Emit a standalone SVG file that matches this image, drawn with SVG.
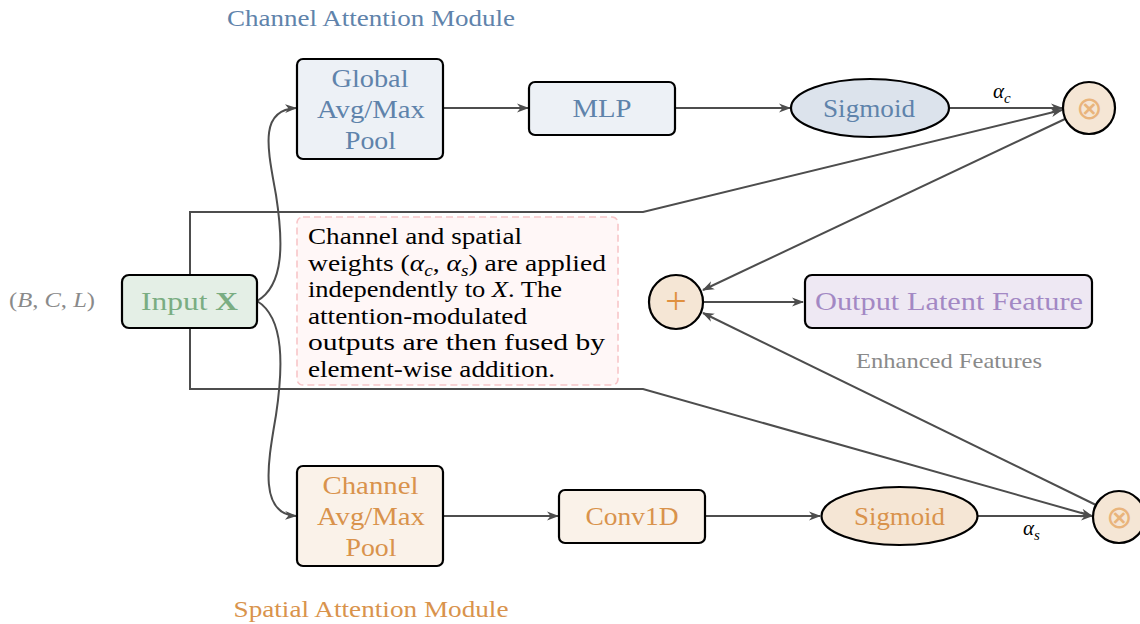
<svg xmlns="http://www.w3.org/2000/svg" width="1140" height="624" viewBox="0 0 1140 624">
<defs>
<marker id="arr" viewBox="0 0 12 10" refX="11" refY="5" markerWidth="12" markerHeight="10" markerUnits="userSpaceOnUse" orient="auto">
<path d="M0,0.5 L12,5 L0,9.5 L3.5,5 Z" fill="#4d4d4d"/>
</marker>
<style>
.t{font-family:"Liberation Serif","Times New Roman",serif}
.box{stroke:#000;stroke-width:2.2}
.conn{fill:none;stroke:#4d4d4d;stroke-width:2;marker-end:url(#arr)}
.blue{fill:#5f83ab}
.orange{fill:#d9934c}
.lbl{font-size:25px;text-anchor:middle}
.note{font-size:23px;fill:#000}
.sym{font-family:"DejaVu Sans",sans-serif;text-anchor:middle;font-weight:200}
</style>
</defs>
<rect width="1140" height="624" fill="#fff"/>

<g id="connectors">
<path class="conn" d="M257,301 C285,285 283,240 276,195 C268,150 258,110 296,108"/>
<path class="conn" d="M257,301 C285,318 283,368 276,415 C268,462 258,514 296,516"/>
<path class="conn" d="M443,108 L528,108"/>
<path class="conn" d="M675,108 L790,108"/>
<path class="conn" d="M949,108 L1062,108"/>
<path class="conn" d="M190,275 L190,212 L643,212 L1062,110"/>
<path class="conn" d="M190,328 L190,389 L643,389 L1092,516"/>
<path class="conn" d="M443,516 L558,516"/>
<path class="conn" d="M705,516 L820,516"/>
<path class="conn" d="M977,516 L1092,516"/>
<path class="conn" d="M1065,119 L703,290"/>
<path class="conn" d="M1096,505 L703,313"/>
<path class="conn" d="M703,302 L803,302"/>
<text class="t" x="993" y="98" font-size="21" font-style="italic">α<tspan font-size="15" dy="5">c</tspan></text>
<text class="t" x="1023" y="535" font-size="21" font-style="italic">α<tspan font-size="15" dy="5">s</tspan></text>
</g>

<g id="title-channel">
<text class="t blue" x="371" y="26" font-size="24" text-anchor="middle" textLength="288" lengthAdjust="spacingAndGlyphs">Channel Attention Module</text>
</g>
<g id="title-spatial">
<text class="t orange" x="371" y="617" font-size="24" text-anchor="middle" textLength="275" lengthAdjust="spacingAndGlyphs">Spatial Attention Module</text>
</g>

<g id="shape-label">
<text class="t" x="52" y="307" font-size="22" fill="#8a8a8a" text-anchor="middle" textLength="86" lengthAdjust="spacingAndGlyphs">(<tspan font-style="italic">B</tspan>, <tspan font-style="italic">C</tspan>, <tspan font-style="italic">L</tspan>)</text>
</g>

<g id="input">
<rect class="box" x="122" y="275" width="135" height="53" rx="7" fill="#e4efe6"/>
<text class="t lbl" x="189.5" y="310" fill="#7aad82" textLength="97" lengthAdjust="spacingAndGlyphs">Input <tspan font-weight="bold">X</tspan></text>
</g>

<g id="global-pool">
<rect class="box" x="297" y="59" width="146" height="100" rx="6" fill="#edf1f6"/>
<text class="t lbl blue" x="370" y="87" textLength="77" lengthAdjust="spacingAndGlyphs">Global</text>
<text class="t lbl blue" x="371" y="118" textLength="108" lengthAdjust="spacingAndGlyphs">Avg/Max</text>
<text class="t lbl blue" x="370.5" y="149" textLength="51" lengthAdjust="spacingAndGlyphs">Pool</text>
</g>

<g id="mlp">
<rect class="box" x="529" y="82" width="146" height="53" rx="6" fill="#edf1f6"/>
<text class="t lbl blue" x="602" y="117" textLength="59" lengthAdjust="spacingAndGlyphs">MLP</text>
</g>

<g id="sigmoid-c">
<ellipse class="box" cx="870" cy="108" rx="79" ry="29" fill="#dce3ec"/>
<text class="t lbl blue" x="869" y="117" textLength="92" lengthAdjust="spacingAndGlyphs">Sigmoid</text>
</g>

<g id="mul-c">
<circle class="box" cx="1089" cy="108" r="26" fill="#f5e6d5"/>
<text class="sym" x="1089" y="119" font-size="32" fill="#e9b47c">⊗</text>
</g>

<g id="note">
<rect x="297" y="217" width="321" height="168" rx="6" fill="#fff7f7" stroke="#f8c6c9" stroke-width="1.6" stroke-dasharray="7,4"/>
<text class="t note" x="308" y="244" textLength="214" lengthAdjust="spacingAndGlyphs">Channel and spatial</text>
<text class="t note" x="308" y="270.5" textLength="298" lengthAdjust="spacingAndGlyphs">weights (<tspan font-style="italic">α</tspan><tspan font-size="16" font-style="italic" dy="5">c</tspan><tspan dy="-5">, </tspan><tspan font-style="italic">α</tspan><tspan font-size="16" font-style="italic" dy="5">s</tspan><tspan dy="-5">) are applied</tspan></text>
<text class="t note" x="308" y="297" textLength="254" lengthAdjust="spacingAndGlyphs">independently to <tspan font-style="italic">X</tspan>. The</text>
<text class="t note" x="308" y="323.5" textLength="219" lengthAdjust="spacingAndGlyphs">attention-modulated</text>
<text class="t note" x="308" y="350" textLength="297" lengthAdjust="spacingAndGlyphs">outputs are then fused by</text>
<text class="t note" x="308" y="376.5" textLength="247" lengthAdjust="spacingAndGlyphs">element-wise addition.</text>
</g>

<g id="add">
<circle class="box" cx="676" cy="302" r="27" fill="#f5e6d5"/>
<text class="t" x="676" y="314" font-size="38" fill="#e0903f" text-anchor="middle">+</text>
</g>

<g id="output">
<rect class="box" x="805" y="275" width="287" height="53" rx="7" fill="#eee8f3"/>
<text class="t lbl" x="949" y="310" fill="#a388c4" textLength="268" lengthAdjust="spacingAndGlyphs">Output Latent Feature</text>
</g>

<g id="enhanced-label">
<text class="t" x="949" y="368" font-size="21" fill="#8a8a8a" text-anchor="middle" textLength="186" lengthAdjust="spacingAndGlyphs">Enhanced Features</text>
</g>

<g id="channel-pool">
<rect class="box" x="297" y="466" width="146" height="100" rx="6" fill="#faf2e9"/>
<text class="t lbl orange" x="370.5" y="494" textLength="96" lengthAdjust="spacingAndGlyphs">Channel</text>
<text class="t lbl orange" x="371" y="525" textLength="108" lengthAdjust="spacingAndGlyphs">Avg/Max</text>
<text class="t lbl orange" x="371" y="556" textLength="51" lengthAdjust="spacingAndGlyphs">Pool</text>
</g>

<g id="conv1d">
<rect class="box" x="559" y="490" width="146" height="53" rx="6" fill="#faf2e9"/>
<text class="t lbl orange" x="632" y="525" textLength="93" lengthAdjust="spacingAndGlyphs">Conv1D</text>
</g>

<g id="sigmoid-s">
<ellipse class="box" cx="899.5" cy="516" rx="78" ry="29" fill="#f5e6d5"/>
<text class="t lbl orange" x="899.5" y="525" textLength="91" lengthAdjust="spacingAndGlyphs">Sigmoid</text>
</g>

<g id="mul-s">
<circle class="box" cx="1119" cy="517" r="26" fill="#f5e6d5"/>
<text class="sym" x="1119" y="528" font-size="32" fill="#e9b47c">⊗</text>
</g>
</svg>
